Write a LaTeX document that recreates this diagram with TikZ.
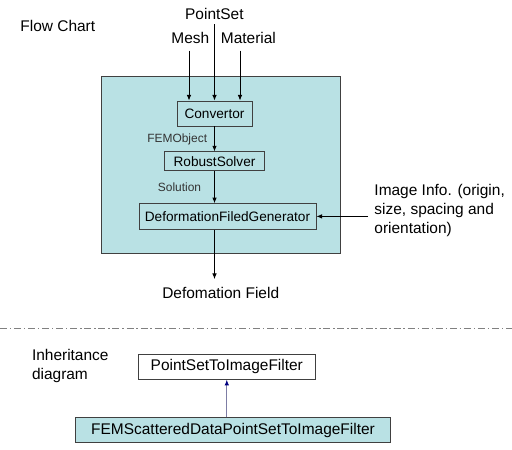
\documentclass[tikz,border=0pt]{standalone}
\usepackage{fontspec}
\setmainfont{Liberation Sans}
\usetikzlibrary{arrows.meta,positioning,calc}
\definecolor{panelteal}{RGB}{185,225,228}
\definecolor{inhblue}{RGB}{0,0,128}
\definecolor{inhline}{RGB}{125,125,165}

\begin{document}
\begin{tikzpicture}[
			>={Latex[length=4pt,width=3.2pt]},
			line width=0.6pt,
			node distance=0.6cm,
			box/.style={
				draw=black!75,
				fill=panelteal,
				inner sep=1pt,
				minimum height=0.625cm,
				font=\fontsize{9.7}{11}\selectfont
			},
			classbox/.style={
				draw=black!75,
				minimum width=4.425cm,
				minimum height=0.625cm,
				font=\fontsize{11}{13}\selectfont
			},
			tag/.style={
				inner sep=0pt,
				text=black!80,
				font=\fontsize{8.5}{10}\selectfont
			},
			plain/.style={
				inner sep=0pt,
				font=\fontsize{11}{13.5}\selectfont
			}
			]
			
			\useasboundingbox (0,0) rectangle (12.8,-11.225);
			
			% flow chart
			\node[plain,anchor=west] (title) at (0.5,-0.65) {Flow Chart};
			
			\node[draw=black!75,fill=panelteal,anchor=north west,
				minimum width=5.975cm,minimum height=4.425cm] (panel) at (2.525,-1.9) {};
			
			\node[box,minimum width=1.875cm] (conv) at (5.3625,-2.8375) {Convertor};
			
			\node[box,minimum width=2.5cm,minimum height=0.475cm,below=0.625cm of conv] (solver)
			{RobustSolver};
			
			\node[box,minimum width=4.425cm,minimum height=0.635cm,below=0.8cm of solver,xshift=0.325cm] (gen)
			{DeformationFiledGenerator};
			
			\node[plain] (pset) at (5.36,-0.35) {PointSet};
			\node[plain] (mesh) at (4.76,-0.96) {Mesh};
			\node[plain] (mat) at (6.21,-0.96) {Material};
			
			\coordinate (inL) at ([xshift=-0.6375cm]conv.north);
			\coordinate (inR) at ([xshift=0.6375cm]conv.north);
			
			\draw[->,shorten <=4.3pt] (inL |- mesh.south) -- (inL);
			\draw[->,shorten <=3pt] (conv.north |- pset.south) -- (conv.north);
			\draw[->,shorten <=4.3pt] (inR |- mat.south) -- (inR);
			
			\draw[->] (conv.south) -- node[tag,left=0.175cm] {FEMObject} (conv.south |- solver.north);
			\draw[->] (solver.south) -- node[tag,left=0.325cm] {Solution} (solver.south |- gen.north);
			
			\node[plain,below=1.44cm of gen,xshift=-0.17cm] (field) {Defomation Field};
			\draw[->,shorten >=5.7pt] (solver.south |- gen.south) -- (solver.south |- field.north);
			
			\node[plain,align=left,inner xsep=0.15cm,right=1.29cm of gen,yshift=0.145cm] (info)
			{Image Info. (origin,\\size, spacing and\\orientation)};
			\draw[->] (info.west |- gen.east) -- (gen.east);
			
			% separator
			\draw[gray,line width=0.9pt,dash pattern=on 5pt off 2pt on 1pt off 2pt] (0,-8.2075) -- (12.8,-8.2075);
			
			% inheritance
			\node[plain,align=left,anchor=west] (inh) at (0.79,-9.15) {Inheritance\\diagram};
			
			\node[classbox] (base) at (5.67,-9.17) {PointSetToImageFilter};
			\node[classbox,fill=panelteal,minimum width=7.885cm,minimum height=0.615cm] (fems) at (5.825,-10.75)
			{FEMScatteredDataPointSetToImageFilter};
			
			\draw[-{Latex[length=4pt,width=3.2pt,color=inhblue]},inhline] (fems.north -| base.south) -- (base.south);
			
		\end{tikzpicture}
\end{document}
